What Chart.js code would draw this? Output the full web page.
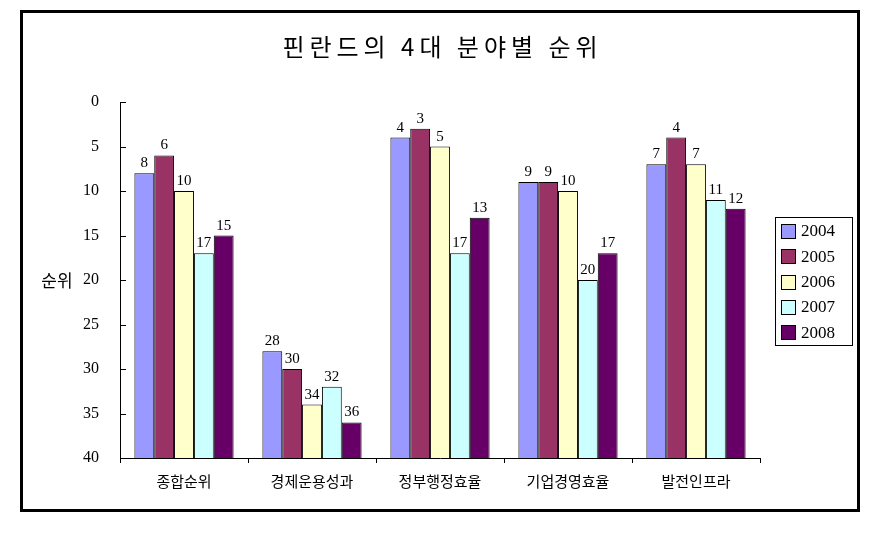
<!DOCTYPE html>
<html>
<head>
<meta charset="utf-8">
<script src="https://cdn.jsdelivr.net/npm/chart.js@4/dist/chart.umd.min.js"></script>
<style>
html,body{margin:0;padding:0;background:#fff;}
canvas{display:block;}
</style>
</head>
<body>
<canvas id="c" width="890" height="536"></canvas>
<script>
const categories = ['종합순위', '경제운용성과', '정부행정효율', '기업경영효율', '발전인프라'];
const years = ['2004', '2005', '2006', '2007', '2008'];
const s2004 = [8, 28, 4, 9, 7];
const s2005 = [6, 30, 3, 9, 4];
const s2006 = [10, 34, 5, 10, 7];
const s2007 = [17, 32, 17, 20, 11];
const s2008 = [15, 36, 13, 17, 12];
const seriesValues = [s2004, s2005, s2006, s2007, s2008];
const colors = ['#9999FF', '#993366', '#FFFFCC', '#CCFFFF', '#660066'];
const chartTitle = '핀란드의 4대 분야별 순위';
const yTitle = '순위';

const KR = '"Noto Sans CJK KR", sans-serif';
const SERIF = '"Liberation Serif", "DejaVu Serif", serif';

const decor = {
  id: 'decor',
  beforeDraw(chart) {
    const ctx = chart.ctx;
    ctx.save();
    ctx.fillStyle = '#fff';
    ctx.fillRect(0, 0, chart.width, chart.height);
    ctx.restore();
  },
  afterDatasetsDraw(chart) {
    const ctx = chart.ctx;
    ctx.save();
    ctx.font = '15px ' + SERIF;
    ctx.fillStyle = '#000';
    ctx.textAlign = 'center';
    ctx.textBaseline = 'alphabetic';
    chart.data.datasets.forEach((ds, i) => {
      const meta = chart.getDatasetMeta(i);
      meta.data.forEach((el, j) => {
        ctx.fillText(String(ds.data[j]), el.x, el.y - 6);
      });
    });
    ctx.restore();
  },
  afterDraw(chart) {
    const ctx = chart.ctx;
    const ys = chart.scales.y;
    const ca = chart.chartArea;
    ctx.save();
    // inner y ticks
    ctx.strokeStyle = '#000';
    ctx.lineWidth = 1;
    ys.ticks.forEach(t => {
      const y = Math.round(ys.getPixelForValue(t.value)) + 0.5;
      ctx.beginPath();
      ctx.moveTo(ca.left, y);
      ctx.lineTo(ca.left + 6, y);
      ctx.stroke();
    });
    // title
    ctx.fillStyle = '#000';
    ctx.font = '24px ' + KR;
    ctx.textBaseline = 'middle';
    ctx.textAlign = 'left';
    if ('letterSpacing' in ctx) ctx.letterSpacing = '5px';
    const tw = ctx.measureText(chartTitle).width;
    ctx.fillText(chartTitle, 440 - tw / 2 + 2.5, 47);
    if ('letterSpacing' in ctx) ctx.letterSpacing = '0px';
    // y title
    ctx.textAlign = 'center';
    ctx.font = '17px ' + KR;
    ctx.fillText(yTitle, 57, 281);
    // legend
    ctx.lineWidth = 1;
    ctx.strokeStyle = '#000';
    ctx.strokeRect(775.5, 217.5, 77, 128);
    ctx.font = '17px ' + SERIF;
    ctx.textAlign = 'left';
    years.forEach((yr, i) => {
      const cy = 231 + i * 25.3;
      ctx.fillStyle = colors[i];
      ctx.fillRect(781.5, Math.round(cy - 7) + 0.5, 14, 14);
      ctx.strokeRect(781.5, Math.round(cy - 7) + 0.5, 14, 14);
      ctx.fillStyle = '#000';
      ctx.fillText(yr, 801, cy + 1);
    });
    // outer frame
    ctx.lineWidth = 3;
    ctx.strokeRect(21.5, 11.5, 837, 499);
    ctx.restore();
  }
};

new Chart(document.getElementById('c'), {
  type: 'bar',
  data: {
    labels: categories,
    datasets: years.map((yr, i) => ({
      label: yr,
      data: seriesValues[i],
      backgroundColor: colors[i],
      borderColor: '#000',
      borderWidth: 1,
      base: 40,
      categoryPercentage: 0.775,
      barPercentage: 1.0
    }))
  },
  options: {
    responsive: false,
    animation: false,
    devicePixelRatio: 1,
    layout: { padding: { top: 102, left: 0, right: 130, bottom: 46 } },
    plugins: {
      legend: { display: false },
      title: { display: false },
      tooltip: { enabled: false }
    },
    scales: {
      y: {
        reverse: true,
        min: 0,
        max: 40,
        ticks: { stepSize: 5, padding: 13, color: '#000', font: { family: SERIF, size: 16 } },
        grid: { display: false },
        border: { display: true, color: '#000', width: 1 },
        afterFit(scale) { scale.width = 120; }
      },
      x: {
        offset: true,
        ticks: { padding: 9, color: '#000', font: { family: KR, size: 15 }, maxRotation: 0 },
        grid: { display: true, offset: true, drawOnChartArea: false, drawTicks: true, tickLength: 5, color: '#000' },
        border: { display: true, color: '#000', width: 1 },
        afterFit(scale) { scale.height = 32; }
      }
    }
  },
  plugins: [decor]
});
</script>
</body>
</html>
